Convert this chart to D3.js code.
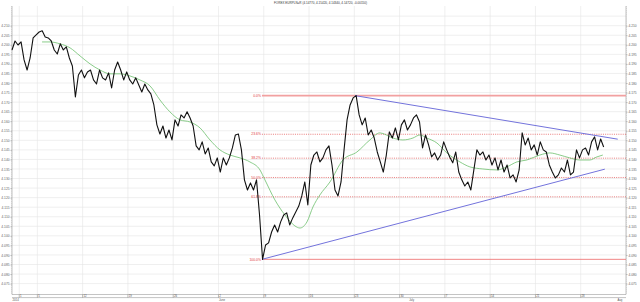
<!DOCTYPE html>
<html>
<head>
<meta charset="utf-8">
<script src="https://cdn.jsdelivr.net/npm/d3@7"></script>
<style>
body { margin: 0; background: #fff; }
svg { display: block; }
text { font-family: "Liberation Sans", Arial, sans-serif; }
</style>
</head>
<body>
<div id="chart"></div>
<script>
// ---- data ----
const title = "FOREX EURPLN=R (4.14770, 4.15420, 4.14340, 4.14720, -0.00150)";

// price bars every 1/3 trading day, day 0 = 1 May 2014
const priceStart = -0.8;
const priceStep = 1 / 3;
const prices = [
    4.1973, 4.2020, 4.1999, 4.2015, 4.1921, 4.1868, 4.1931, 4.2036, 4.2052, 4.2067,
    4.2073, 4.2041, 4.2036, 4.2020, 4.1973, 4.1952, 4.2005, 4.1973, 4.1989, 4.1931,
    4.1889, 4.1727, 4.1842, 4.1868, 4.1827, 4.1858, 4.1868, 4.1816, 4.1795, 4.1868,
    4.1827, 4.1816, 4.1853, 4.1774, 4.1868, 4.1910, 4.1868, 4.1816, 4.1858, 4.1816,
    4.1795, 4.1827, 4.1790, 4.1753, 4.1795, 4.1764, 4.1743, 4.1685, 4.1581, 4.1533,
    4.1575, 4.1512, 4.1554, 4.1502, 4.1607, 4.1575, 4.1633, 4.1617, 4.1649, 4.1617,
    4.1575, 4.1471, 4.1450, 4.1492, 4.1429, 4.1460, 4.1387, 4.1366, 4.1408, 4.1334,
    4.1408, 4.1371, 4.1408, 4.1460, 4.1528, 4.1533, 4.1450, 4.1293, 4.1240, 4.1277,
    4.1240, 4.1293, 4.1109, 4.0877, 4.0952, 4.0963, 4.1020, 4.1057, 4.1020, 4.1073,
    4.1109, 4.1120, 4.1057, 4.1094, 4.1125, 4.1156, 4.1209, 4.1282, 4.1162, 4.1371,
    4.1423, 4.1439, 4.1387, 4.1408, 4.1450, 4.1471, 4.1371, 4.1240, 4.1209, 4.1282,
    4.1450, 4.1607, 4.1685, 4.1722, 4.1734, 4.1633, 4.1581, 4.1617, 4.1528, 4.1554,
    4.1512, 4.1439, 4.1387, 4.1334, 4.1423, 4.1544, 4.1512, 4.1565, 4.1502, 4.1581,
    4.1607, 4.1554, 4.1581, 4.1617, 4.1633, 4.1596, 4.1460, 4.1528, 4.1476, 4.1413,
    4.1434, 4.1397, 4.1423, 4.1492, 4.1450, 4.1413, 4.1382, 4.1439, 4.1334, 4.1293,
    4.1261, 4.1282, 4.1240, 4.1345, 4.1450, 4.1423, 4.1439, 4.1397, 4.1423, 4.1371,
    4.1408, 4.1345, 4.1397, 4.1334, 4.1371, 4.1303, 4.1319, 4.1282, 4.1345, 4.1539,
    4.1476, 4.1512, 4.1450, 4.1476, 4.1423, 4.1492, 4.1450, 4.1439, 4.1371, 4.1334,
    4.1303, 4.1319, 4.1355, 4.1334, 4.1397, 4.1319, 4.1334, 4.1450, 4.1408, 4.1450,
    4.1460, 4.1423, 4.1492, 4.1518, 4.1450, 4.1507, 4.1465
];

// moving average (green)
const smaDays = [
    2.52, 3.40, 4.50, 5.61, 6.71, 7.82, 8.92, 10.02, 11.13, 12.23,
    13.33, 14.44, 15.54, 16.64, 17.75, 18.85, 19.96, 21.06, 22.16, 23.27,
    24.37, 25.47, 26.58, 27.13, 28.23, 29.34, 30.44, 30.99, 31.77, 32.43,
    33.20, 34.31, 35.74, 37.29, 38.72, 39.82, 41.26, 42.36, 43.47, 44.24,
    45.01, 46.12, 47.22, 48.66, 49.76, 51.19, 52.74, 53.84, 54.95, 56.05,
    57.48, 58.59, 59.69, 60.79, 61.90, 63.00, 63.77, 64.44
];
const smaValues = [
    4.2015, 4.2015, 4.2005, 4.1984, 4.1942, 4.1900, 4.1868, 4.1848, 4.1848, 4.1837,
    4.1816, 4.1785, 4.1711, 4.1649, 4.1607, 4.1596, 4.1565, 4.1502, 4.1450, 4.1423,
    4.1408, 4.1387, 4.1345, 4.1293, 4.1188, 4.1109, 4.1052, 4.1041, 4.1073, 4.1151,
    4.1214, 4.1282, 4.1397, 4.1439, 4.1502, 4.1539, 4.1512, 4.1502, 4.1512, 4.1528,
    4.1512, 4.1486, 4.1434, 4.1387, 4.1361, 4.1350, 4.1345, 4.1361, 4.1387, 4.1397,
    4.1423, 4.1434, 4.1423, 4.1408, 4.1397, 4.1397, 4.1413, 4.1423
];

// fibonacci retracement between swing low and swing high
const fibLow = { day: 26.80, value: 4.0877 };
const fibHigh = { day: 37.07, value: 4.1734 };
const fibLevels = [0, 0.236, 0.382, 0.5, 0.618, 1];
const fibLabels = ["0.0%", "23.6%", "38.2%", "50.0%", "61.8%", "100.0%"];

// triangle trend lines [day, value]
const upperTrend = [[37.07, 4.1734], [66.09, 4.1506]];
const lowerTrend = [[26.80, 4.0877], [64.66, 4.1349]];

// axes
const yTicks = d3.range(4.075, 4.2151, 0.005);
const yLabelMax = 4.2101;
const weekDays = [0, 2, 7, 12, 17, 22, 27, 32, 37, 42, 47, 52, 57, 62];
const weekLabels = ["1", "5", "12", "19", "26", "2", "9", "16", "23", "30", "7", "14", "21", "28"];
const monthDays = [-0.8, 22, 43, 66];
const monthLabels = ["2014", "June", "July", "Aug"];

// ---- chart ----
const W = 640, H = 302;
const plotLeft = 12, plotRight = 626, plotTop = 6, plotBottom = 294.5;

const svg = d3.select("#chart").append("svg")
    .attr("width", W)
    .attr("height", H);

const x = d3.scaleLinear().domain([-0.8, 67]).range([plotLeft, plotRight]);
const y = d3.scaleLinear().domain([4.075, 4.210]).range([283.6, 25.7]);

// title
svg.append("text")
    .attr("x", 274).attr("y", 4.2)
    .attr("font-size", 3.4)
    .attr("fill", "#333")
    .attr("textLength", 93)
    .attr("lengthAdjust", "spacingAndGlyphs")
    .text(title);

// grid
const grid = svg.append("g").attr("stroke", "#e4e4e4").attr("stroke-width", 0.6);
grid.selectAll(".h").data(yTicks).join("line")
    .attr("x1", plotLeft).attr("x2", plotRight)
    .attr("y1", d => y(d)).attr("y2", d => y(d));
grid.selectAll(".v").data(weekDays).join("line")
    .attr("x1", d => x(d)).attr("x2", d => x(d))
    .attr("y1", plotTop).attr("y2", plotBottom);

// y axes (left and right)
const minorTicks = d3.range(4.070, 4.2201, 0.001);
function yAxis(g, side) {
    const ax = side === "left" ? d3.axisLeft(y) : d3.axisRight(y);
    g.call(ax.tickValues(yTicks.filter(d => d < yLabelMax))
        .tickFormat(d3.format(".3f"))
        .tickSize(1.6).tickPadding(0.8));
    g.select(".domain").remove();
    g.selectAll("text").attr("font-size", 3.3).attr("fill", "#666")
        .attr("font-family", "Liberation Sans, Arial, sans-serif");
    g.selectAll(".tick line").attr("stroke", "#888").attr("stroke-width", 0.5);
    g.append("line").attr("y1", plotTop).attr("y2", plotBottom).attr("stroke", "#999").attr("stroke-width", 0.6);
    const dir = side === "left" ? -1 : 1;
    g.selectAll(".minor").data(minorTicks).join("line")
        .attr("x1", 0).attr("x2", dir * 0.9)
        .attr("y1", d => y(d)).attr("y2", d => y(d))
        .attr("stroke", "#aaa").attr("stroke-width", 0.4);
}
svg.append("g").attr("transform", `translate(${plotLeft},0)`).call(yAxis, "left");
svg.append("g").attr("transform", `translate(${plotRight},0)`).call(yAxis, "right");

// x axis band
const xb = svg.append("g");
[294.5, 297.6].forEach(yy => xb.append("line")
    .attr("x1", plotLeft).attr("x2", plotRight).attr("y1", yy).attr("y2", yy)
    .attr("stroke", "#888").attr("stroke-width", 0.5));
xb.selectAll(".wt").data(weekDays).join("line")
    .attr("x1", d => x(d)).attr("x2", d => x(d))
    .attr("y1", 294.5).attr("y2", 297.6)
    .attr("stroke", "#777").attr("stroke-width", 0.5);
xb.selectAll(".wl").data(weekDays).join("text")
    .attr("x", d => x(d) + 0.8).attr("y", 297)
    .attr("font-size", 2.8).attr("fill", "#555")
    .text((d, i) => weekLabels[i]);
xb.selectAll(".ml").data(monthDays).join("text")
    .attr("x", d => x(d) + 0.5).attr("y", 301)
    .attr("font-size", 2.8).attr("fill", "#555")
    .text((d, i) => monthLabels[i]);

// fibonacci levels
const fib = svg.append("g");
const span = fibHigh.value - fibLow.value;
fibLevels.forEach((lv, i) => {
    const v = fibHigh.value - lv * span;
    const solid = lv === 0 || lv === 1;
    fib.append("line")
        .attr("x1", x(fibLow.day)).attr("x2", plotRight)
        .attr("y1", y(v)).attr("y2", y(v))
        .attr("stroke", lv === 0 ? "#f2a0a0" : (solid ? "#ee7777" : "#e04545"))
        .attr("stroke-width", lv === 0 ? 1.8 : (solid ? 0.9 : 0.7))
        .attr("stroke-dasharray", solid ? null : "1,1.2");
    fib.append("text")
        .attr("x", x(fibLow.day) - 1).attr("y", y(v) + 1.2)
        .attr("text-anchor", "end")
        .attr("font-size", 3.4).attr("fill", "#e03a3a")
        .text(fibLabels[i]);
});

// trend lines
const trendLine = d3.line().x(d => x(d[0])).y(d => y(d[1]));
[upperTrend, lowerTrend].forEach(t => svg.append("path")
    .attr("d", trendLine(t))
    .attr("fill", "none")
    .attr("stroke", "#7373dc")
    .attr("stroke-width", 1));

// moving average
const sma = smaDays.map((d, i) => [d, smaValues[i]]);
svg.append("path")
    .attr("d", d3.line().x(d => x(d[0])).y(d => y(d[1])).curve(d3.curveMonotoneX)(sma))
    .attr("fill", "none")
    .attr("stroke", "#6cbf6c")
    .attr("stroke-width", 0.8);

// price
const series = prices.map((v, i) => [priceStart + i * priceStep, v]);
svg.append("path")
    .attr("d", d3.line().x(d => x(d[0])).y(d => y(d[1]))(series))
    .attr("fill", "none")
    .attr("stroke", "#111")
    .attr("stroke-width", 1.1)
    .attr("stroke-linejoin", "round");
</script>
</body>
</html>
